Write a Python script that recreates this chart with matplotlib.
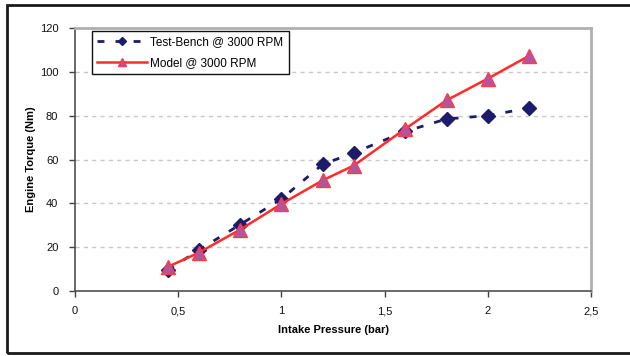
import matplotlib
matplotlib.use("Agg")
import matplotlib.pyplot as plt
from matplotlib.patches import Rectangle

pressure = [0.45, 0.6, 0.8, 1.0, 1.2, 1.35, 1.6, 1.8, 2.0, 2.2]
test_bench = [9.5, 18.7, 30.3, 42.0, 57.8, 63.0, 72.8, 78.5, 80.0, 83.5]
model = [11.0, 17.5, 28.0, 39.7, 50.5, 57.2, 74.0, 87.0, 96.9, 107.3]
x_ticks = [0, 0.5, 1, 1.5, 2, 2.5]
x_tick_labels = ["0", "0,5", "1", "1,5", "2", "2,5"]
y_ticks = [0, 20, 40, 60, 80, 100, 120]

plt.rcParams['font.family'] = ['Liberation Sans', 'DejaVu Sans']

W, H = 630, 356
fig = plt.figure(figsize=(W / 100, H / 100), dpi=100)
fig.patch.set_facecolor('white')

# outer border
fig.patches.append(Rectangle((7 / W, 1 - 353 / H), (640 - 7) / W, (353 - 5) / H,
                             transform=fig.transFigure, fill=False,
                             edgecolor='#1a1a1a', linewidth=2.0))

ax = fig.add_axes([75 / W, 1 - 291 / H, (591 - 75) / W, (291 - 28) / H])

ax.plot(pressure, test_bench, linestyle=(0, (2.5, 4)), color='#1c1c6b', linewidth=2.0,
        marker='D', markersize=7, markerfacecolor='#1c1c6b', markeredgecolor='#1c1c6b',
        label='Test-Bench @ 3000 RPM', zorder=3)
ax.plot(pressure, model, linestyle='-', color='#ff2a2a', linewidth=1.8,
        marker='^', markersize=10, markerfacecolor='#b0559e', markeredgecolor='#ff3a4a',
        markeredgewidth=1.0, label='Model @ 3000 RPM', zorder=4)

ax.set_xlim(0, 2.5)
ax.set_ylim(0, 120)
ax.set_xticks(x_ticks)
ax.set_xticklabels(x_tick_labels)
ax.set_yticks(y_ticks)

for y in y_ticks[1:-1]:
    ax.axhline(y, color='#c8c8c8', linestyle=(0, (3, 3)), linewidth=1.0, zorder=0)

ax.tick_params(axis='both', direction='out', length=4, width=1, colors='#404040',
               labelsize=8, labelcolor='#111111')
ax.tick_params(axis='x', pad=7)
ax.tick_params(axis='y', pad=8)

for s in ['top', 'right']:
    ax.spines[s].set_color('#b0b0b0')
    ax.spines[s].set_linewidth(2.0)
for s in ['left', 'bottom']:
    ax.spines[s].set_color('#505050')
    ax.spines[s].set_linewidth(1.2)

ax.set_xlabel('Intake Pressure (bar)', fontsize=8, fontweight='bold', labelpad=6)
ax.set_ylabel('Engine Torque (Nm)', fontsize=8, fontweight='bold', labelpad=3)

leg = ax.legend(loc='upper left', bbox_to_anchor=((92 - 75) / 516, (291 - 31) / 263),
                borderaxespad=0, fontsize=8.5, frameon=True, fancybox=False,
                handlelength=4.2, borderpad=0.45, labelspacing=0.75, handletextpad=0.3,
                markerscale=0.6)
leg.get_frame().set_edgecolor('#111111')
leg.get_frame().set_linewidth(1.0)
leg.get_frame().set_facecolor('white')
leg.get_frame().set_alpha(1)

fig.savefig('out.png', dpi=100)
